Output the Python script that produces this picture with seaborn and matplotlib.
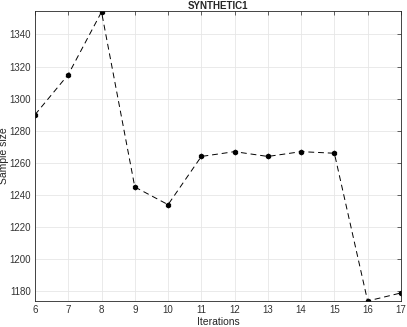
import matplotlib
matplotlib.use('Agg')
import matplotlib.pyplot as plt
import seaborn as sns
import pandas as pd

# Data
iterations = [6, 7, 8, 9, 10, 11, 12, 13, 14, 15, 16, 17]
sample_size = [1290, 1315, 1354, 1245, 1234, 1264, 1267, 1264, 1267, 1266, 1174, 1179]
x_ticks = list(range(6, 18))
y_ticks = [1180, 1200, 1220, 1240, 1260, 1280, 1300, 1320, 1340]

df = pd.DataFrame({'Iterations': iterations, 'Sample size': sample_size})

sns.set_style('whitegrid')
plt.rcParams['font.family'] = ['Liberation Sans', 'DejaVu Sans']

fig = plt.figure(figsize=(4.07, 3.27), dpi=100)
ax = fig.add_axes([0.086, 0.0795, 0.899, 0.8865])

sns.lineplot(data=df, x='Iterations', y='Sample size', ax=ax,
             color='black', linewidth=0.7, linestyle=(0, (6, 4)),
             marker='h', markersize=3.5, markeredgecolor='black',
             markerfacecolor='black')

ax.set_xlim(6, 17)
ax.set_ylim(1174, 1354.5)
ax.set_xticks(x_ticks)
ax.set_yticks(y_ticks)

ax.grid(True, color='#e6e6e6', linewidth=0.6)
for side in ax.spines.values():
    side.set_color('#262626')
    side.set_linewidth(0.6)
    side.set_visible(True)
ax.tick_params(direction='in', length=3, width=0.5, top=True, right=True,
               labelsize=7, colors='#262626', pad=3)
ax.tick_params(axis='both', which='both', labelcolor='#333333')

ax.set_xlabel('Iterations', fontsize=7.5, color='#262626')
ax.set_ylabel('Sample size', fontsize=7.5, color='#262626')
ax.xaxis.set_label_coords(0.5, -0.055)
ax.yaxis.set_label_coords(-0.072, 0.5)
ax.set_title('SYNTHETIC1', fontsize=7, fontweight='bold', pad=1.5)

fig.savefig('out.png', dpi=100)
